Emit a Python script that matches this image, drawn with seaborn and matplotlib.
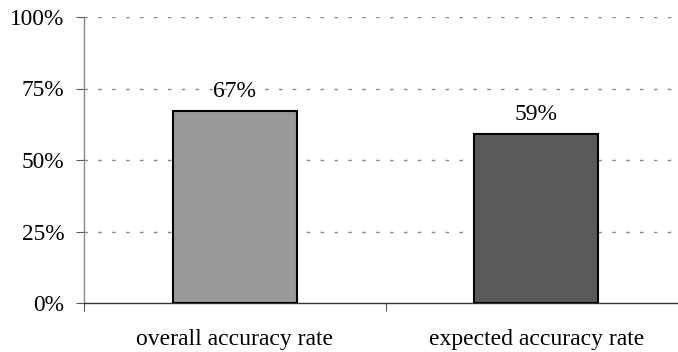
import matplotlib
matplotlib.use("Agg")
import matplotlib.pyplot as plt
import seaborn as sns
import pandas as pd
from matplotlib.ticker import FixedLocator

categories = ["overall accuracy rate", "expected accuracy rate"]
values = [67, 59]
bar_colors = ["#999999", "#5a5a5a"]
y_ticks = [0, 25, 50, 75, 100]
y_tick_labels = ["0%", "25%", "50%", "75%", "100%"]

sns.set_theme(style="white")
plt.rcParams["font.family"] = ["Liberation Serif", "DejaVu Serif"]

df = pd.DataFrame({"category": categories, "value": values})

fig = plt.figure(figsize=(6.78, 3.52), dpi=100)
ax = fig.add_axes([84 / 678, 1 - 303 / 352, 1 - 84 / 678, (303 - 17) / 352])

sns.barplot(data=df, x="category", y="value", hue="category",
            palette=bar_colors, width=0.41, edgecolor="black",
            linewidth=1.5, legend=False, ax=ax, zorder=3)

ax.set_ylim(0, 100)
ax.set_xlim(-0.5, 1.47)
ax.set_yticks(y_ticks)
ax.set_yticklabels(y_tick_labels, fontsize=16.8, color="black")
ax.set_xticks([0, 1])
ax.set_xticklabels(categories, fontsize=17, color="black")
ax.xaxis.set_minor_locator(FixedLocator([-0.5, 0.5]))
ax.tick_params(axis="x", which="major", length=0, pad=19)
ax.tick_params(axis="x", which="minor", length=6, width=0.8, color="#555555",
               direction="out", bottom=True)
ax.tick_params(axis="y", which="major", length=6, width=0.8, color="#555555",
               direction="out", left=True, pad=8)

for y in y_ticks[1:]:
    ax.axhline(y, color="#888888", linewidth=1.0, linestyle=(0, (2.5, 7.5)), zorder=1)

for s in ["top", "right"]:
    ax.spines[s].set_visible(False)
ax.spines["left"].set_color("#888888")
ax.spines["left"].set_linewidth(1.0)
ax.spines["bottom"].set_color("#333333")
ax.spines["bottom"].set_linewidth(1.0)

for cont in ax.containers:
    ax.bar_label(cont, labels=[f"{v:.0f}%" for v in cont.datavalues],
                 padding=7, fontsize=17, color="black")

ax.set_xlabel("")
ax.set_ylabel("")
fig.savefig("out.png", dpi=100)
